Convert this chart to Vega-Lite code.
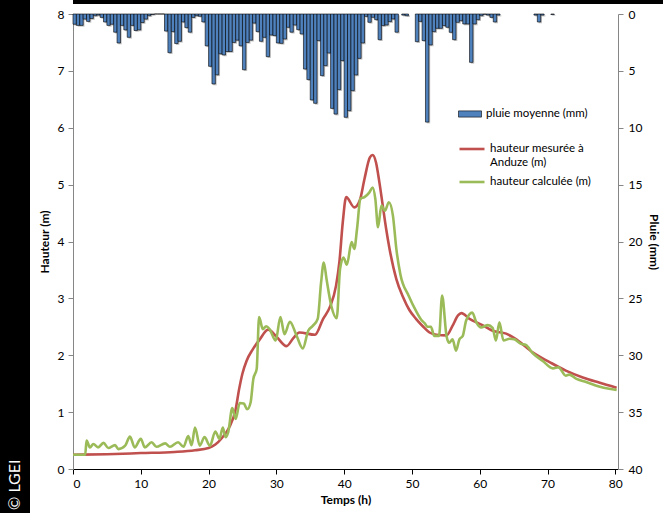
{
  "$schema": "https://vega.github.io/schema/vega-lite/v6.json",
  "background": "white",
  "padding": 0,
  "spacing": 8,
  "config": {
    "font": "Lato",
    "view": {"stroke": null},
    "axis": {"labelFont": "Lato", "titleFont": "Lato", "labelFontSize": 12, "titleFontSize": 12, "titleFontWeight": "bold", "labelColor": "black", "titleColor": "black", "grid": false, "tickSize": 5, "domainColor": "#868686", "tickColor": "#868686", "format": "d"},
    "legend": {"labelFont": "Lato", "labelFontSize": 11.5, "labelColor": "black"}
  },
  "datasets": {
    "rain": [
      {"t":0.25,"p":0.9},{"t":0.75,"p":1.0},{"t":1.25,"p":1.0},{"t":1.75,"p":0.45},{"t":2.25,"p":0.65},{"t":2.75,"p":0.4},{"t":3.25,"p":0.15},{"t":3.75,"p":0.1},{"t":4.25,"p":0.3},{"t":4.75,"p":0.7},
      {"t":5.25,"p":1.0},{"t":5.75,"p":0.9},{"t":6.25,"p":1.6},{"t":6.75,"p":2.55},{"t":7.25,"p":1.0},{"t":7.75,"p":1.4},{"t":8.25,"p":2.05},{"t":8.75,"p":1.0},{"t":9.25,"p":1.45},{"t":9.75,"p":1.4},
      {"t":10.25,"p":0.75},{"t":10.75,"p":0.45},{"t":11.25,"p":0.15},{"t":11.75,"p":0.05},{"t":12.25,"p":0},{"t":12.75,"p":0},{"t":13.25,"p":0},{"t":13.75,"p":1.5},{"t":14.25,"p":3.4},{"t":14.75,"p":1.55},
      {"t":15.25,"p":2.6},{"t":15.75,"p":2.4},{"t":16.25,"p":0.7},{"t":16.75,"p":1.2},{"t":17.25,"p":1.6},{"t":17.75,"p":0.3},{"t":18.25,"p":0.15},{"t":18.75,"p":0.2},{"t":19.25,"p":0.7},{"t":19.75,"p":2.8},
      {"t":20.25,"p":4.6},{"t":20.75,"p":6.15},{"t":21.25,"p":5.35},{"t":21.75,"p":3.5},{"t":22.25,"p":3.6},{"t":22.75,"p":3.3},{"t":23.25,"p":3.3},{"t":23.75,"p":2.5},{"t":24.25,"p":2.3},{"t":24.75,"p":2.8},
      {"t":25.25,"p":4.9},{"t":25.75,"p":2.5},{"t":26.25,"p":2.3},{"t":26.75,"p":0.8},{"t":27.25,"p":1.55},{"t":27.75,"p":2.4},{"t":28.25,"p":2.05},{"t":28.75,"p":3.75},{"t":29.25,"p":1.85},{"t":29.75,"p":1.9},
      {"t":30.25,"p":2.55},{"t":30.75,"p":2.58},{"t":31.25,"p":2.2},{"t":31.75,"p":1.17},{"t":32.25,"p":1.6},{"t":32.75,"p":0.97},{"t":33.25,"p":1.38},{"t":33.75,"p":1.76},{"t":34.25,"p":4.84},{"t":34.75,"p":5.77},
      {"t":35.25,"p":7.56},{"t":35.75,"p":7.85},{"t":36.25,"p":2.34},{"t":36.75,"p":5.42},{"t":37.25,"p":4.54},{"t":37.75,"p":3.43},{"t":38.25,"p":8.3},{"t":38.75,"p":8.8},{"t":39.25,"p":6.65},{"t":39.75,"p":4.1},
      {"t":40.25,"p":9.08},{"t":40.75,"p":8.5},{"t":41.25,"p":6.74},{"t":41.75,"p":5.36},{"t":42.25,"p":3.9},{"t":42.75,"p":2.55},{"t":43.25,"p":0.21},{"t":43.75,"p":0.73},{"t":44.25,"p":0.29},{"t":44.75,"p":0.5},
      {"t":45.25,"p":2.26},{"t":45.75,"p":1.02},{"t":46.25,"p":0.97},{"t":46.75,"p":0.67},{"t":47.25,"p":0.44},{"t":47.75,"p":1.6},{"t":48.75,"p":0.1},{"t":49.25,"p":0.15},
      {"t":50.75,"p":2.43},{"t":51.25,"p":0.65},{"t":51.75,"p":2.34},{"t":52.25,"p":9.5},{"t":52.75,"p":2.72},{"t":53.25,"p":1.55},{"t":53.75,"p":1.26},{"t":54.25,"p":1.26},{"t":54.75,"p":1.02},
      {"t":55.25,"p":1.17},{"t":55.75,"p":1.61},{"t":56.25,"p":2.26},{"t":56.75,"p":0.73},{"t":57.25,"p":0.59},{"t":57.75,"p":0.88},{"t":58.25,"p":0.88},{"t":58.75,"p":4.25},{"t":59.25,"p":0.88},{"t":59.75,"p":0.5},
      {"t":60.25,"p":0.15},{"t":60.75,"p":0.03},{"t":61.25,"p":0.1},{"t":61.75,"p":0.3},{"t":62.25,"p":0.7},{"t":62.75,"p":0.1},
      {"t":68.25,"p":0.1},{"t":68.75,"p":0.7},{"t":69.25,"p":0.1},{"t":70.75,"p":0.05}
    ],
    "meas": [
      {"t":0,"h":0.25},{"t":5,"h":0.26},{"t":10,"h":0.28},{"t":15,"h":0.3},{"t":18,"h":0.33},{"t":20,"h":0.37},{"t":21,"h":0.43},{"t":22,"h":0.55},{"t":23,"h":0.72},{"t":24,"h":1.05},
      {"t":24.5,"h":1.4},{"t":25,"h":1.68},{"t":25.6,"h":1.9},{"t":26.5,"h":2.1},{"t":27.5,"h":2.27},{"t":28.8,"h":2.45},{"t":30,"h":2.33},{"t":31.5,"h":2.16},{"t":32.5,"h":2.3},{"t":33.4,"h":2.4},
      {"t":35.7,"h":2.36},{"t":36.9,"h":2.64},{"t":37.9,"h":2.85},{"t":38.8,"h":3.22},{"t":39.3,"h":3.64},{"t":39.8,"h":4.34},{"t":40.3,"h":4.78},{"t":41.5,"h":4.6},{"t":42.3,"h":4.72},{"t":43.0,"h":5.1},
      {"t":43.8,"h":5.48},{"t":44.2,"h":5.52},{"t":44.7,"h":5.39},{"t":45.2,"h":5.04},{"t":45.7,"h":4.63},{"t":46.2,"h":4.22},{"t":46.7,"h":3.87},{"t":47.7,"h":3.34},{"t":48.7,"h":3.02},{"t":49.6,"h":2.8},
      {"t":50.6,"h":2.64},{"t":51.6,"h":2.51},{"t":52.6,"h":2.4},{"t":53.6,"h":2.36},{"t":55.1,"h":2.35},{"t":56.0,"h":2.52},{"t":56.8,"h":2.7},{"t":57.3,"h":2.74},{"t":58.5,"h":2.64},{"t":60.4,"h":2.53},
      {"t":61.9,"h":2.43},{"t":63.9,"h":2.38},{"t":65.4,"h":2.28},{"t":67.8,"h":2.05},{"t":70.3,"h":1.88},{"t":72.7,"h":1.73},{"t":75.2,"h":1.61},{"t":77.6,"h":1.52},{"t":80.2,"h":1.43}
    ],
    "calc": [
      {"t":0,"h":0.25},{"t":1.8,"h":0.25},{"t":2.0,"h":0.5},{"t":2.5,"h":0.38},{"t":3.0,"h":0.44},{"t":3.7,"h":0.38},{"t":4.5,"h":0.46},{"t":5.2,"h":0.37},{"t":6.2,"h":0.42},{"t":6.7,"h":0.35},
      {"t":7.7,"h":0.41},{"t":8.4,"h":0.57},{"t":9.1,"h":0.38},{"t":10.0,"h":0.53},{"t":10.6,"h":0.38},{"t":11.6,"h":0.47},{"t":12.3,"h":0.39},{"t":13.6,"h":0.45},{"t":14.3,"h":0.39},{"t":15.5,"h":0.47},
      {"t":16.3,"h":0.39},{"t":17.0,"h":0.58},{"t":17.5,"h":0.42},{"t":18.0,"h":0.73},{"t":18.7,"h":0.41},{"t":19.4,"h":0.56},{"t":20.2,"h":0.41},{"t":21.0,"h":0.66},{"t":21.6,"h":0.53},{"t":22.1,"h":0.73},
      {"t":22.5,"h":0.56},{"t":22.9,"h":0.65},{"t":23.5,"h":1.07},{"t":24.0,"h":0.88},{"t":24.6,"h":1.16},{"t":25.2,"h":1.15},{"t":25.7,"h":1.05},{"t":26.2,"h":1.17},{"t":26.6,"h":1.58},{"t":27.1,"h":1.76},
      {"t":27.45,"h":2.67},{"t":28.0,"h":2.46},{"t":28.5,"h":2.51},{"t":29.0,"h":2.46},{"t":29.9,"h":2.26},{"t":30.6,"h":2.67},{"t":31.2,"h":2.37},{"t":32.0,"h":2.59},{"t":32.9,"h":2.37},{"t":33.9,"h":2.12},
      {"t":34.7,"h":2.43},{"t":35.4,"h":2.52},{"t":36.1,"h":2.64},{"t":36.6,"h":3.28},{"t":37.0,"h":3.63},{"t":37.4,"h":3.34},{"t":38.1,"h":2.87},{"t":38.9,"h":2.65},{"t":39.4,"h":3.52},{"t":39.9,"h":3.72},
      {"t":40.4,"h":3.59},{"t":41.1,"h":3.99},{"t":41.5,"h":3.87},{"t":41.9,"h":4.22},{"t":42.4,"h":4.75},{"t":43.0,"h":4.78},{"t":43.7,"h":4.86},{"t":44.2,"h":4.95},{"t":44.6,"h":4.75},{"t":45.0,"h":4.25},
      {"t":45.5,"h":4.63},{"t":46.0,"h":4.54},{"t":46.6,"h":4.69},{"t":47.2,"h":4.45},{"t":47.7,"h":3.87},{"t":48.3,"h":3.42},{"t":49.5,"h":3.05},{"t":50.6,"h":2.78},{"t":51.4,"h":2.62},{"t":51.9,"h":2.56},
      {"t":52.3,"h":2.5},{"t":52.8,"h":2.5},{"t":53.3,"h":2.34},{"t":54.0,"h":2.34},{"t":54.45,"h":3.05},{"t":55.1,"h":2.34},{"t":55.5,"h":2.22},{"t":56.0,"h":2.28},{"t":56.5,"h":2.08},{"t":57.0,"h":2.28},
      {"t":57.5,"h":2.34},{"t":58.0,"h":2.61},{"t":58.9,"h":2.75},{"t":59.5,"h":2.58},{"t":60.2,"h":2.49},{"t":61.2,"h":2.53},{"t":61.9,"h":2.48},{"t":62.4,"h":2.26},{"t":62.9,"h":2.58},{"t":63.5,"h":2.26},
      {"t":64.4,"h":2.29},{"t":65.1,"h":2.28},{"t":66.1,"h":2.2},{"t":66.8,"h":2.18},{"t":67.8,"h":2.04},{"t":69.3,"h":1.9},{"t":70.8,"h":1.77},{"t":71.6,"h":1.79},{"t":72.7,"h":1.64},{"t":73.2,"h":1.66},
      {"t":74.2,"h":1.59},{"t":75.7,"h":1.53},{"t":77.6,"h":1.45},{"t":79.1,"h":1.41},{"t":80.2,"h":1.39}
    ]
  },
  "hconcat": [
    {
      "width": 30, "height": 513,
      "view": {"fill": "black", "stroke": null},
      "data": {"values": [{"label": "© LGEI", "pos": 0}]},
      "mark": {"type": "text", "angle": 270, "align": "left", "baseline": "middle", "color": "white", "fontSize": 16, "font": "Lato", "dx": 3},
      "encoding": {
        "text": {"field": "label"},
        "y": {"field": "pos", "type": "quantitative", "scale": {"domain": [0, 1]}, "axis": null}
      }
    },
    {
      "spacing": 4,
      "vconcat": [
        {
          "width": 590, "height": 4,
          "view": {"fill": "black", "stroke": null},
          "data": {"values": []},
          "mark": "rule",
          "encoding": {}
        },
        {
          "width": 545, "height": 455,
          "resolve": {"scale": {"y": "independent"}},
          "layer": [
            {
              "data": {"name": "rain"},
              "layer": [
                {
                  "mark": {"type": "bar", "width": 3.4, "color": "#a6a6a6", "opacity": 0.7, "xOffset": 1.3, "yOffset": 1.3, "y2Offset": 1.3},
                  "encoding": {
                    "x": {"field": "t", "type": "quantitative", "scale": {"domain": [0, 80.4], "nice": false, "padding": 0},
                      "axis": {"title": "Temps (h)", "values": [0,10,20,30,40,50,60,70,80], "domainColor": "black", "tickColor": "black", "labelPadding": 4, "titlePadding": 5}},
                    "y": {"field": "p", "type": "quantitative", "scale": {"domain": [0, 40], "reverse": true, "nice": false, "padding": 0},
                      "axis": {"orient": "right", "title": "Pluie (mm)", "values": [0,5,10,15,20,25,30,35,40], "labelPadding": 5, "titlePadding": 5}}
                  }
                },
                {
                  "mark": {"type": "bar", "width": 3.4, "stroke": "black", "strokeWidth": 0.6},
                  "encoding": {
                    "x": {"field": "t", "type": "quantitative"},
                    "y": {"field": "p", "type": "quantitative"},
                    "fill": {"datum": "pluie moyenne (mm)", "scale": {"domain": ["pluie moyenne (mm)"], "range": ["#4f81bd"]},
                      "legend": {"orient": "none", "legendX": 458, "legendY": 102, "title": null, "symbolType": "M-1,-0.27H1V0.27H-1Z", "symbolSize": 529, "symbolStrokeColor": "black", "symbolStrokeWidth": 0.6, "labelOffset": 4}}
                  }
                }
              ]
            },
            {
              "layer": [
                {
                  "data": {"name": "meas"},
                  "mark": {"type": "line", "interpolate": "monotone", "strokeWidth": 2.6},
                  "encoding": {
                    "x": {"field": "t", "type": "quantitative"},
                    "y": {"field": "h", "type": "quantitative", "scale": {"domain": [0, 8], "nice": false, "padding": 0}, "axis": {"orient": "left", "title": "Hauteur (m)", "values": [0,1,2,3,4,5,6,7,8], "labelPadding": 4, "titlePadding": 6}},
                    "stroke": {"datum": "hauteur mesurée à|Anduze (m)", "scale": {"domain": ["hauteur mesurée à|Anduze (m)", "hauteur calculée (m)"], "range": ["#c0504d", "#9bbb59"]},
                      "legend": {"orient": "none", "legendX": 458, "legendY": 135, "title": null, "symbolType": "stroke", "symbolSize": 625, "symbolStrokeWidth": 2.6, "labelOffset": 4, "labelExpr": "split(datum.label, '|')", "rowPadding": -2}}
                  }
                },
                {
                  "data": {"name": "calc"},
                  "mark": {"type": "line", "interpolate": "monotone", "strokeWidth": 2.6},
                  "encoding": {
                    "x": {"field": "t", "type": "quantitative"},
                    "y": {"field": "h", "type": "quantitative"},
                    "stroke": {"datum": "hauteur calculée (m)"}
                  }
                }
              ]
            }
          ]
        }
      ]
    }
  ]
}
